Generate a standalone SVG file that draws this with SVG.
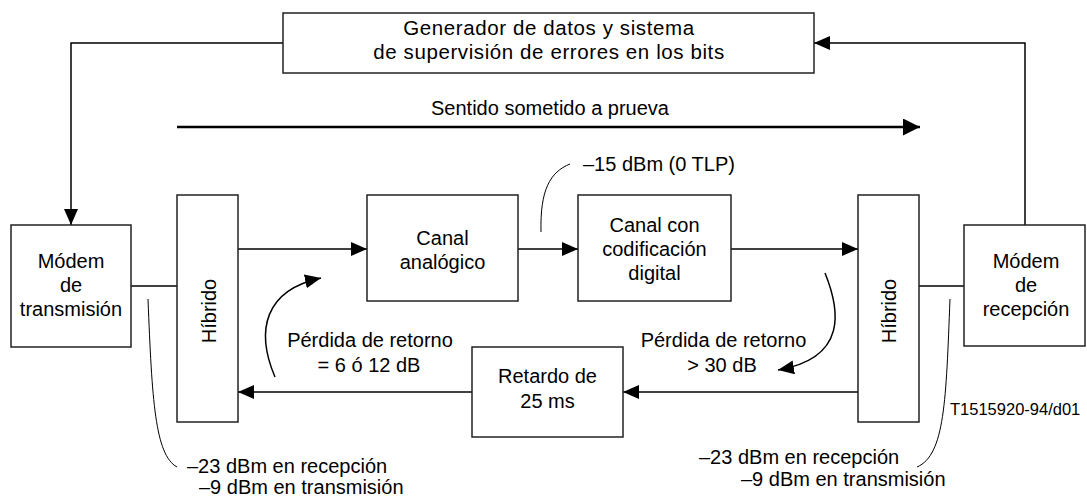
<svg xmlns="http://www.w3.org/2000/svg" width="1087" height="500" viewBox="0 0 1087 500">
<style>
  .box{fill:#fff;stroke:#222;stroke-width:1.5}
  .ln{fill:none;stroke:#000;stroke-width:1.5}
  .thin{fill:none;stroke:#000;stroke-width:1}
  .bold{fill:none;stroke:#000;stroke-width:2.5}
  text{font-family:"Liberation Sans",Arial,sans-serif;font-size:20px;fill:#000}
  .c{text-anchor:middle}
  .top{font-size:20.5px;letter-spacing:0.6px}
  .small{font-size:16.5px}
</style>
<defs>
  <marker id="ah" markerUnits="userSpaceOnUse" markerWidth="16" markerHeight="14" refX="16" refY="7" orient="auto">
    <path d="M0,0 L16,7 L0,14 z" fill="#000"/>
  </marker>
  <marker id="ahb" markerUnits="userSpaceOnUse" markerWidth="17" markerHeight="17" refX="17" refY="8.5" orient="auto">
    <path d="M0,0 L17,8.5 L0,17 z" fill="#000"/>
  </marker>
</defs>
<rect width="1087" height="500" fill="#fff"/>

<g id="connectors">
  <polyline class="ln" points="283,43 71,43 71,225" marker-end="url(#ah)"/>
  <polyline class="ln" points="1025,225 1025,43 814,43" marker-end="url(#ah)"/>
  <line class="bold" x1="177" y1="127" x2="920" y2="127" marker-end="url(#ahb)"/>
  <line class="ln" x1="238" y1="249" x2="367" y2="249" marker-end="url(#ah)"/>
  <line class="ln" x1="518" y1="249" x2="578" y2="249" marker-end="url(#ah)"/>
  <line class="ln" x1="731" y1="249" x2="858" y2="249" marker-end="url(#ah)"/>
  <line class="ln" x1="131" y1="286" x2="177" y2="286"/>
  <line class="ln" x1="919" y1="286" x2="964" y2="286"/>
  <line class="ln" x1="858" y1="392" x2="623" y2="392" marker-end="url(#ah)"/>
  <line class="ln" x1="472" y1="392" x2="238" y2="392" marker-end="url(#ah)"/>
  <path class="ln" d="M275,377 C255,330 265,290 321,278" marker-end="url(#ah)"/>
  <path class="ln" d="M825,273 C840,310 848,358 778,370" marker-end="url(#ah)"/>
  <path class="thin" d="M541,232 C540,190 550,172 570,164"/>
  <path class="thin" d="M148,299 C152,400 155,455 177,467"/>
  <path class="thin" d="M950,299 C946,400 945,455 917,467"/>
</g>

<g id="generador">
  <rect class="box" x="283" y="13" width="531" height="60"/>
  <text class="c top" x="549" y="35">Generador de datos y sistema</text>
  <text class="c top" x="549" y="59">de supervisión de errores en los bits</text>
</g>

<g id="sentido">
  <text class="c" x="550" y="115">Sentido sometido a prueva</text>
</g>

<g id="modem-tx">
  <rect class="box" x="11" y="225" width="120" height="122"/>
  <text class="c" x="71" y="268">Módem</text>
  <text class="c" x="71" y="292">de</text>
  <text class="c" x="71" y="316">transmisión</text>
</g>

<g id="hibrido-1">
  <rect class="box" x="177" y="195" width="61" height="227"/>
  <text class="c" transform="translate(215.5,311) rotate(-90)">Híbrido</text>
</g>

<g id="canal-analogico">
  <rect class="box" x="367" y="195" width="151" height="106"/>
  <text class="c" x="442.5" y="245">Canal</text>
  <text class="c" x="442.5" y="269">analógico</text>
</g>

<g id="canal-digital">
  <rect class="box" x="578" y="195" width="153" height="106"/>
  <text class="c" x="654.5" y="232">Canal con</text>
  <text class="c" x="654.5" y="256">codificación</text>
  <text class="c" x="654.5" y="280">digital</text>
</g>

<g id="hibrido-2">
  <rect class="box" x="858" y="195" width="61" height="227"/>
  <text class="c" transform="translate(896,311) rotate(-90)">Híbrido</text>
</g>

<g id="modem-rx">
  <rect class="box" x="964" y="225" width="121" height="121"/>
  <text class="c" x="1026" y="268">Módem</text>
  <text class="c" x="1026" y="292">de</text>
  <text class="c" x="1026" y="316">recepción</text>
</g>

<g id="retardo">
  <rect class="box" x="472" y="347" width="151" height="90"/>
  <text class="c" x="547.5" y="383">Retardo de</text>
  <text class="c" x="547.5" y="408">25 ms</text>
</g>

<g id="labels">
  <text x="583" y="171">–15 dBm (0 TLP)</text>
  <text class="c" x="370" y="347">Pérdida de retorno</text>
  <text class="c" x="369" y="372">= 6 ó 12 dB</text>
  <text class="c" x="723.5" y="347">Pérdida de retorno</text>
  <text class="c" x="722" y="372">&gt; 30 dB</text>
  <text x="187" y="473">–23 dBm en recepción</text>
  <text x="199" y="494">–9 dBm en transmisión</text>
  <text x="699" y="464">–23 dBm en recepción</text>
  <text x="741" y="486">–9 dBm en transmisión</text>
  <text class="small" x="950" y="415">T1515920-94/d01</text>
</g>
</svg>
